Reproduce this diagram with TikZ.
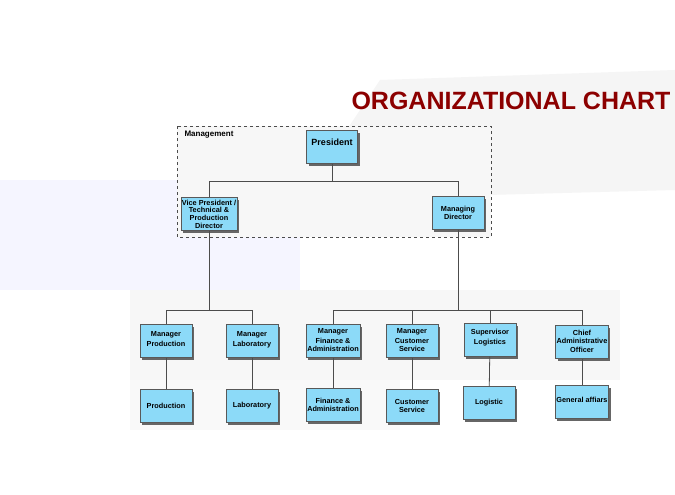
\documentclass[tikz,border=0pt]{standalone}
\usepackage{fontspec}
\setmainfont{Liberation Sans}
\usetikzlibrary{shadows}
\begin{document}
\begin{tikzpicture}[x=1pt,y=-1pt,
 box/.style={draw=gray!70!black,fill=cyan!45!white,minimum width=52pt,minimum height=33pt,align=center,font=\bfseries\fontsize{7.3}{7.6}\selectfont,inner sep=1pt,
   drop shadow={shadow xshift=2pt,shadow yshift=-2pt,fill=gray!80!black,opacity=1}},
 conn/.style={draw=gray!60!black,line width=0.8pt}]
\useasboundingbox (0,0) rectangle (675,495);
\fill[white] (0,0) rectangle (675,495);
\fill[gray!8] (380,80) -- (675,70) -- (675,190) -- (300,200) -- cycle;
\fill[blue!4] (0,180) rectangle (300,290);
\fill[gray!6] (130,290) rectangle (620,380);
\fill[gray!5] (130,380) rectangle (400,430);
\node[font=\bfseries\fontsize{25}{28}\selectfont,text=red!55!black] (title) at (511,101) {ORGANIZATIONAL CHART};
\draw[dashed,gray!60!black,line width=0.7pt,fill=gray!6] (177,126) rectangle (491,237);
\node[anchor=north west,font=\bfseries\fontsize{8}{9}\selectfont] (mg) at (181,127) {Management};
\node[box,minimum width=51pt] (pres) at (332,147) {\raisebox{9pt}{\fontsize{9}{10}\selectfont President}};
\node[box,minimum width=54pt] (vp) at (209,214) {Vice President /\\Technical \&\\Production\\Director};
\node[box] (md) at (458,213) {Managing\\Director};
\node[box] (mp) at (166,341) {\raisebox{4pt}{\shortstack{Manager\\Production}}};
\node[box] (ml) at (252,341) {\raisebox{4pt}{\shortstack{Manager\\Laboratory}}};
\node[box] (mf) at (333,341) {\raisebox{2pt}{\shortstack{Manager\\Finance \&\\Administration}}};
\node[box] (mc) at (412,341) {\raisebox{2pt}{\shortstack{Manager\\Customer\\Service}}};
\node[box] (sl) at (490,340) {\raisebox{6pt}{\shortstack{Supervisor\\Logistics}}};
\node[box] (ca) at (582,342) {\raisebox{2pt}{\shortstack{Chief\\Administrative\\Officer}}};
\coordinate (j1) at (332,181);
\coordinate (j2) at (209,310);
\coordinate (j3) at (458,310);
\node[box] (p) at (166,406) {Production};
\node[box] (l) at (252,406) {Laboratory};
\node[box] (f) at (333,405) {Finance \&\\Administration};
\node[box] (c) at (412,406) {Customer\\Service};
\node[box] (lg) at (489,403) {Logistic};
\node[box] (g) at (582,402) {\raisebox{4pt}{General affiars}};
\draw[conn] (pres.south) -- (j1) -| (vp.north);
\draw[conn] (j1) -| (md.north);
\draw[conn] (vp.south) -- (j2);
\draw[conn] (md.south) -- (j3);
\draw[conn] (j2) -| (mp.north);
\draw[conn] (j2) -| (ml.north);
\draw[conn] (j3) -| (mf.north);
\draw[conn] (j3) -| (mc.north);
\draw[conn] (j3) -| (sl.north);
\draw[conn] (j3) -| (ca.north);
\draw[conn] (mp) -- (p); \draw[conn] (ml) -- (l); \draw[conn] (mf) -- (f);
\draw[conn] (mc) -- (c); \draw[conn] (sl) -- (lg); \draw[conn] (ca) -- (g);
\end{tikzpicture}
\end{document}
